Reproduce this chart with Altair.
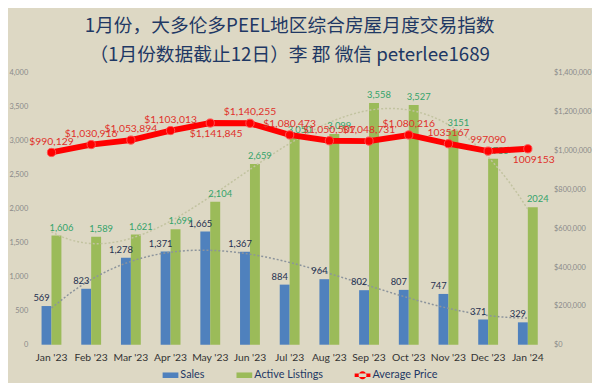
import altair as alt
import pandas as pd
import json

months = ["Jan '23", "Feb '23", "Mar '23", "Apr '23", "May '23", "Jun '23", "Jul '23",
          "Aug '23", "Sep '23", "Oct '23", "Nov '23", "Dec '23", "Jan '24"]
sales = [569, 823, 1278, 1371, 1665, 1367, 884, 964, 802, 807, 747, 371, 329]
sales_labels = ["569", "823", "1,278", "1,371", "1,665", "1,367", "884", "964", "802", "807", "747", "371", "329"]
listings = [1606, 1589, 1621, 1699, 2104, 2659, 3050, 3099, 3558, 3527, 3151, 2735, 2024]
listings_labels = ["1,606", "1,589", "1,621", "1,699", "2,104", "2,659", "3,050", "3,099", "3,558",
                   "3,527", "3151", "2735", "2024"]
prices = [990129, 1030916, 1053894, 1103013, 1141845, 1140255, 1080473, 1050507, 1048731,
          1080216, 1035167, 997090, 1009153]
price_labels = ["$990,129", "$1,030,916", "$1,053,894", "$1,103,013", "$1,141,845", "$1,140,255",
                "$1,080,473", "$1,050,507", "$1,048,731", "$1,080,216", "1035167", "997090", "1009153"]
series = ["Sales", "Active Listings", "Average Price"]
colors = ["#4f81bd", "#9bbb59", "#ff0000"]
left_ticks = list(range(0, 4001, 500))
right_ticks = list(range(0, 1400001, 200000))
title_lines = ["1月份，大多伦多PEEL地区综合房屋月度交易指数", "（1月份数据截止12日）李 郡 微信 peterlee1689"]

idx = list(range(len(months)))
long_df = pd.DataFrame({
    "month": months * 2,
    "idx": idx * 2,
    "series": ["Sales"] * len(months) + ["Active Listings"] * len(months),
    "value": sales + listings,
    "label": sales_labels + listings_labels,
})
price_df = pd.DataFrame({"month": months, "idx": idx, "price": prices, "label": price_labels})

FONT = "Lato"
below = ["May '23", "Jan '24"]
below_expr = "indexof(" + json.dumps(below) + ", datum.month) >= 0"

RECT = "M-1,-0.35H1V0.35H-1Z"
LINEDOT = "M-1,-0.22H1V0.22H-1Z M-0.5,0A0.5,0.5 0 1,0 0.5,0A0.5,0.5 0 1,0 -0.5,0Z"
shape_expr = "datum.label === 'Average Price' ? '" + LINEDOT + "' : '" + RECT + "'"

xband = alt.Scale(domain=months, paddingInner=0.5, paddingOuter=0.25)
xoff = alt.Scale(domain=["Sales", "Active Listings"], paddingInner=0, paddingOuter=0)
yleft = alt.Scale(domain=[0, 4000], nice=False)
yright = alt.Scale(domain=[0, 1400000], nice=False)
xq = alt.Scale(domain=[-0.5, 12.5], nice=False, zero=False)

base = alt.Chart(long_df)

bars = base.mark_bar().encode(
    x=alt.X("month:N", scale=xband, sort=months,
            axis=alt.Axis(labelAngle=0, labelFontSize=10.5, labelColor="#333333", domain=False,
                          ticks=False, title=None, labelPadding=8, labelFont=FONT)),
    xOffset=alt.XOffset("series:N", scale=xoff, sort=["Sales", "Active Listings"]),
    y=alt.Y("value:Q", scale=yleft,
            axis=alt.Axis(values=left_ticks, format=",.0f", labelFontSize=7.5, labelColor="#8a8a8a",
                          domain=False, ticks=False, grid=False, title=None, labelFont=FONT,
                          labelPadding=4)),
    color=alt.Color("series:N", scale=alt.Scale(domain=series, range=colors),
                    legend=alt.Legend(orient="none", legendX=133, legendY=299,
                                      direction="horizontal", title=None,
                                      symbolType=alt.ExprRef(expr=shape_expr),
                                      symbolSize=256, symbolStrokeWidth=0,
                                      labelFontSize=11, labelOffset=2,
                                      labelFont=FONT, labelColor="#1f3864", columnPadding=32,
                                      padding=0)),
)

def trend(name, order, color):
    return base.transform_filter(alt.datum.series == name).transform_regression(
        "idx", "value", method="poly", order=order
    ).mark_line(strokeDash=[2, 2], strokeWidth=1.5, color=color).encode(
        x=alt.X("idx:Q", scale=xq, axis=None),
        y=alt.Y("value:Q", scale=yleft, axis=None),
    )

trend_sales = trend("Sales", 3, "#8c949c")
trend_list = trend("Active Listings", 4, "#c2c3a0")

def labels(name, color):
    return base.transform_filter(alt.datum.series == name).mark_text(
        dy=-8, fontSize=9.5, font=FONT, color=color
    ).encode(
        x=alt.X("month:N", scale=xband, sort=months, axis=None),
        xOffset=alt.XOffset("series:N", scale=xoff, sort=["Sales", "Active Listings"]),
        y=alt.Y("value:Q", scale=yleft, axis=None),
        text="label:N",
    )

sales_text = labels("Sales", "#1f3050")
list_text = labels("Active Listings", "#33a36a")

pbase = alt.Chart(price_df)
pline = pbase.mark_line(color="#ff0000", strokeWidth=6).encode(
    x=alt.X("month:N", scale=xband, sort=months, axis=None),
    y=alt.Y("price:Q", scale=yright,
            axis=alt.Axis(orient="right", values=right_ticks, format="$,.0f", labelFontSize=7.5,
                          labelColor="#8a8a8a", domain=False, ticks=False, grid=False, title=None,
                          labelFont=FONT, labelPadding=6)),
)
ppoints = pbase.mark_point(filled=True, color="#ff0000", size=70, opacity=1,
                           stroke="#ff5050", strokeWidth=1).encode(
    x=alt.X("month:N", scale=xband, sort=months, axis=None),
    y=alt.Y("price:Q", scale=yright, axis=None),
)
ptext_above = pbase.transform_filter("!(" + below_expr + ")").mark_text(
    dy=-11, fontSize=10.5, font=FONT, color="#e0302a").encode(
    x=alt.X("month:N", scale=xband, sort=months, axis=None),
    y=alt.Y("price:Q", scale=yright, axis=None),
    text="label:N",
)
ptext_below = pbase.transform_filter(below_expr).mark_text(
    dy=11, dx=6, fontSize=10.5, font=FONT, color="#e0302a").encode(
    x=alt.X("month:N", scale=xband, sort=months, axis=None),
    y=alt.Y("price:Q", scale=yright, axis=None),
    text="label:N",
)

chart = alt.layer(
    bars, trend_list, trend_sales, sales_text, list_text, pline, ppoints, ptext_above, ptext_below
).resolve_scale(
    x="independent", y="independent", xOffset="independent"
).properties(
    width=524, height=276,
    padding={"left": 0, "right": 0, "top": 6, "bottom": 0},
    background="#ddd8c4",
    title=alt.TitleParams(text=title_lines, font="Noto Sans CJK SC", fontSize=19,
                          fontWeight="normal", color="#1f3864", anchor="middle",
                          lineHeight=30, offset=4),
).configure_view(stroke=None)

chart.save("out.html", embed_options={"renderer": "svg", "actions": False})
